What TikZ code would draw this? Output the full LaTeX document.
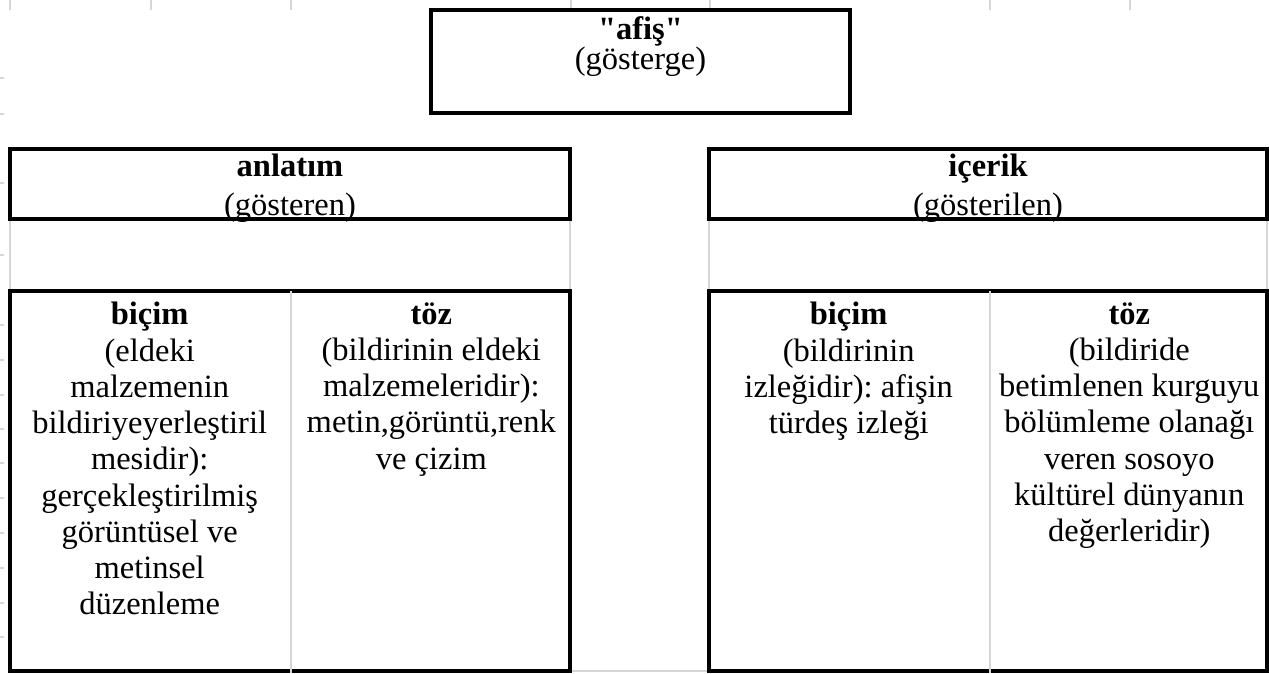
\documentclass[tikz,border=0pt]{standalone}
\usepackage{fontspec}
\setmainfont{Liberation Serif}
\usetikzlibrary{positioning, calc}
\definecolor{sgrid}{HTML}{D6D6D6}
\tikzset{
  cell/.style={draw=black, line width=3.2pt, inner sep=0pt},
  txt/.style={align=center, inner sep=0pt, anchor=north,
    font=\fontsize{32.5}{36.25}\selectfont\frenchspacing},
  gridln/.style={draw=sgrid, line width=1.6pt}
}

\begin{document}
\begin{tikzpicture}[x=1pt,y=-1pt]
  \useasboundingbox (0,0) rectangle (1269,673);
  % spreadsheet grid showing through
  \foreach \x in {10,151,291,571,710,990,1130}
    \draw[gridln] (\x,0) -- (\x,10);
  \foreach \y in {78,114,183,255,325,360,395,429,463,498,533,568,603,637}
    \draw[gridln] (0,\y) -- (4,\y);
  \foreach \x in {10,570,709,1267}
    \draw[gridln] (\x,219) -- (\x,291);
  \draw[gridln] (570,671) -- (709,671);

  % sign
  \node[cell, minimum width=419pt, minimum height=103pt] (afis) at (640.5,61.5) {};
  \node[txt, font=\fontsize{32.5}{30.5}\selectfont, below=8pt of afis.north]
    (afisT) {\textbf{\textquotedbl afiş\textquotedbl}\\(gösterge)};

  % signifier / signified headers
  \node[cell, minimum width=560pt, minimum height=70pt] (anl) at (290,184) {};
  \node[cell, minimum width=558pt, minimum height=70pt] (ice) at (988,184) {};
  \node[txt, font=\fontsize{32.5}{39.5}\selectfont, below=6pt of anl.north]
    (anlT) {\textbf{anlatım}\\(gösteren)};
  \node[txt, font=\fontsize{32.5}{39.5}\selectfont, below=6pt of ice.north]
    (iceT) {\textbf{içerik}\\(gösterilen)};

  % form / substance tables
  \node[cell, minimum width=560pt, minimum height=380pt] (anlB) at (290,481) {};
  \node[cell, minimum width=558pt, minimum height=380pt] (iceB) at (988,481) {};
  \coordinate (anlM) at (291,291);
  \coordinate (iceM) at (990,291);
  \draw[gridln] (anlM) -- (anlM |- anlB.south);
  \draw[gridln] (iceM) -- (iceM |- iceB.south);

  \node[txt, below=12pt of {$(anlB.north west)!0.5!(anlM)$}] (anlBic)
    {\textbf{biçim}\\(eldeki\\malzemenin\\bildiriyeyerleştiril\\mesidir):\\gerçekleştirilmiş\\görüntüsel ve\\metinsel\\düzenleme};
  \node[txt, below=12pt of {$(anlM)!0.5!(anlB.north east)$}] (anlToz)
    {\textbf{töz}\\(bildirinin eldeki\\malzemeleridir):\\metin,görüntü,renk\\ve çizim};
  \node[txt, below=12pt of {$(iceB.north west)!0.5!(iceM)$}] (iceBic)
    {\textbf{biçim}\\(bildirinin\\izleğidir): afişin\\türdeş izleği};
  \node[txt, below=12pt of {$(iceM)!0.5!(iceB.north east)$}] (iceToz)
    {\textbf{töz}\\(bildiride\\betimlenen kurguyu\\bölümleme olanağı\\veren sosoyo\\kültürel dünyanın\\değerleridir)};
\end{tikzpicture}
\end{document}
